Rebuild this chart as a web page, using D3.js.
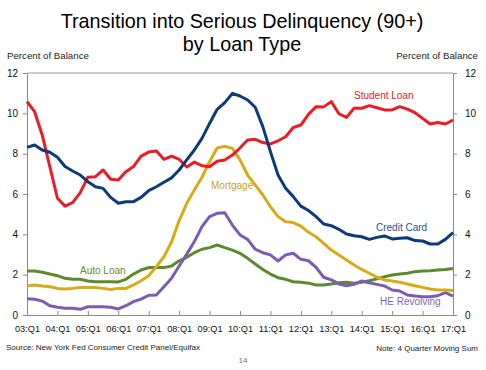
<!DOCTYPE html>
<html>
<head>
<meta charset="utf-8">
<script src="https://cdn.jsdelivr.net/npm/d3@7"></script>
<style>
body { margin: 0; background: #fff; }
text { font-family: Arial, "Liberation Sans", sans-serif; }
</style>
</head>
<body>
<div id="chart"></div>
<script>
// quarters 03:Q1 .. 17:Q1
var quarters = [];
for (var yr = 3; yr <= 17; yr++) {
  for (var k = 1; k <= 4; k++) {
    if (yr == 17 && k > 1) break;
    quarters.push((yr < 10 ? "0" + yr : "" + yr) + ":Q" + k);
  }
}
var yTicks = [0, 2, 4, 6, 8, 10, 12];

var studentLoan = [10.58, 10.08, 8.93, 7.36, 5.79, 5.4, 5.57, 6.07, 6.83, 6.86,
  7.19, 6.73, 6.69, 7.1, 7.36, 7.88, 8.08, 8.13, 7.72, 7.88,
  7.72, 7.34, 7.58, 7.4, 7.35, 7.62, 7.69, 7.93, 8.28, 8.68,
  8.71, 8.55, 8.48, 8.64, 8.84, 9.3, 9.42, 9.95, 10.33, 10.32,
  10.58, 9.98, 9.8, 10.25, 10.25, 10.38, 10.28, 10.17, 10.17, 10.33,
  10.21, 10.03, 9.75, 9.47, 9.55, 9.47, 9.67];
var creditCard = [8.31, 8.43, 8.18, 8.07, 7.82, 7.36, 7.14, 6.94, 6.61, 6.36,
  6.28, 5.83, 5.54, 5.62, 5.62, 5.83, 6.17, 6.36, 6.58, 6.8,
  7.19, 7.69, 8.18, 8.76, 9.5, 10.2, 10.53, 10.99, 10.86, 10.66,
  10.3, 9.34, 8.1, 6.94, 6.28, 5.87, 5.4, 5.18, 4.88, 4.51,
  4.43, 4.25, 4.02, 3.93, 3.88, 3.75, 3.85, 3.92, 3.77, 3.8,
  3.83, 3.69, 3.67, 3.52, 3.52, 3.75, 4.08];
var mortgage = [1.44, 1.49, 1.44, 1.4, 1.32, 1.29, 1.32, 1.36, 1.36, 1.36,
  1.32, 1.27, 1.32, 1.32, 1.49, 1.7, 1.95, 2.4, 2.89, 3.62,
  4.68, 5.54, 6.2, 6.83, 7.6, 8.28, 8.36, 8.26, 7.69, 6.94,
  6.45, 5.95, 5.37, 4.88, 4.63, 4.58, 4.41, 4.1, 3.88, 3.55,
  3.22, 2.98, 2.73, 2.48, 2.26, 2.07, 1.87, 1.74, 1.69, 1.62,
  1.54, 1.45, 1.37, 1.29, 1.24, 1.24, 1.21];
var autoLoan = [2.18, 2.18, 2.12, 2.03, 1.95, 1.82, 1.77, 1.77, 1.69, 1.65,
  1.65, 1.65, 1.64, 1.77, 2.03, 2.23, 2.35, 2.36, 2.35, 2.43,
  2.69, 2.86, 3.09, 3.26, 3.34, 3.47, 3.34, 3.22, 3.06, 2.81,
  2.53, 2.26, 2.03, 1.85, 1.77, 1.65, 1.62, 1.58, 1.49, 1.49,
  1.54, 1.6, 1.62, 1.57, 1.62, 1.7, 1.79, 1.9, 1.98, 2.03,
  2.07, 2.15, 2.18, 2.2, 2.23, 2.26, 2.31];
var heRevolving = [0.81, 0.78, 0.69, 0.46, 0.38, 0.33, 0.33, 0.28, 0.41, 0.41,
  0.41, 0.38, 0.3, 0.46, 0.66, 0.79, 0.98, 0.99, 1.4, 1.82,
  2.43, 3.02, 3.64, 4.38, 4.88, 5.04, 5.07, 4.46, 3.97, 3.75,
  3.26, 3.09, 2.98, 2.68, 2.98, 3.06, 2.76, 2.69, 2.36, 1.87,
  1.74, 1.54, 1.45, 1.52, 1.69, 1.6, 1.52, 1.44, 1.24, 1.19,
  0.99, 0.94, 0.91, 0.91, 0.96, 1.11, 0.94];

var seriesNames = ["Student Loan", "Credit Card", "Mortgage", "Auto Loan", "HE Revolving"];
var seriesValues = [studentLoan, creditCard, mortgage, autoLoan, heRevolving];
var seriesColors = ["#ec1c24", "#0d3a7a", "#d6ab16", "#5b8a2f", "#7a5cb4"];
var labelColors = ["#e2202c", "#2c4f90", "#c9a322", "#5d8c3a", "#7d66ba"];
var labelPos = [[354, 99], [376, 231], [211, 189], [80, 274], [380, 305]];

var w = 486, h = 370;
var mLeft = 27, mRight = 453, mTop = 73, mBottom = 315;

var svg = d3.select("#chart").append("svg")
  .attr("width", w)
  .attr("height", h);

var x = d3.scalePoint().domain(quarters).range([mLeft, mRight]);
var yScale = d3.scaleLinear().domain([0, 12]).range([mBottom, mTop]);

// title
svg.append("text").attr("x", 242).attr("y", 28).attr("text-anchor", "middle")
  .style("font-size", "19.8px").attr("fill", "#000")
  .text("Transition into Serious Delinquency (90+)");
svg.append("text").attr("x", 242).attr("y", 51).attr("text-anchor", "middle")
  .style("font-size", "19.8px").attr("fill", "#000")
  .text("by Loan Type");

// axis titles
svg.append("text").attr("x", 7).attr("y", 59).style("font-size", "9.7px")
  .attr("fill", "#222").text("Percent of Balance");
svg.append("text").attr("x", 478).attr("y", 59).attr("text-anchor", "end")
  .style("font-size", "9.7px").attr("fill", "#222").text("Percent of Balance");

// frame top
svg.append("line").attr("x1", mLeft).attr("x2", mRight).attr("y1", mTop).attr("y2", mTop)
  .attr("stroke", "#9a9a9a").attr("stroke-width", 1);

var yLeft = svg.append("g").attr("transform", "translate(" + mLeft + ",0)")
  .call(d3.axisLeft(yScale).tickValues(yTicks).tickSize(4).tickPadding(5));
var yRight = svg.append("g").attr("transform", "translate(" + mRight + ",0)")
  .call(d3.axisRight(yScale).tickValues(yTicks).tickSize(4).tickPadding(8));
var xAxis = svg.append("g").attr("transform", "translate(0," + mBottom + ")")
  .call(d3.axisBottom(x)
    .tickValues(quarters.filter(function(d, i) { return i % 4 == 0; }))
    .tickSize(-4).tickPadding(10));

[yLeft, yRight, xAxis].forEach(function(g) {
  g.selectAll("path").attr("stroke", "#8a8a8a");
  g.selectAll("line").attr("stroke", "#8a8a8a");
  g.selectAll("text").style("font-size", "10px").attr("fill", "#111")
    .style("font-family", "Arial, 'Liberation Sans', sans-serif");
});
xAxis.selectAll("text").style("font-size", "9.2px");

var line = d3.line()
  .x(function(d, i) { return x(quarters[i]); })
  .y(function(d) { return yScale(d); });

// draw order: auto, HE, mortgage, student, credit card
var order = [3, 4, 2, 0, 1];
order.forEach(function(s) {
  svg.append("path")
    .datum(seriesValues[s])
    .attr("d", line)
    .attr("fill", "none")
    .attr("stroke", seriesColors[s])
    .attr("stroke-width", 3)
    .attr("stroke-linejoin", "round");
});

svg.selectAll(".slabel")
  .data(seriesNames)
  .enter()
  .append("text")
  .attr("class", "slabel")
  .attr("x", function(d, i) { return labelPos[i][0]; })
  .attr("y", function(d, i) { return labelPos[i][1]; })
  .style("font-size", "10px")
  .attr("fill", function(d, i) { return labelColors[i]; })
  .text(function(d) { return d; });

// footer
svg.append("text").attr("x", 6).attr("y", 350).style("font-size", "8px")
  .attr("fill", "#222").text("Source: New York Fed Consumer Credit Panel/Equifax");
svg.append("text").attr("x", 478).attr("y", 351).attr("text-anchor", "end")
  .style("font-size", "8px").attr("fill", "#222").text("Note: 4 Quarter Moving Sum");
svg.append("text").attr("x", 243).attr("y", 363).attr("text-anchor", "middle")
  .style("font-size", "8px").attr("fill", "#777").text("14");
</script>
</body>
</html>
